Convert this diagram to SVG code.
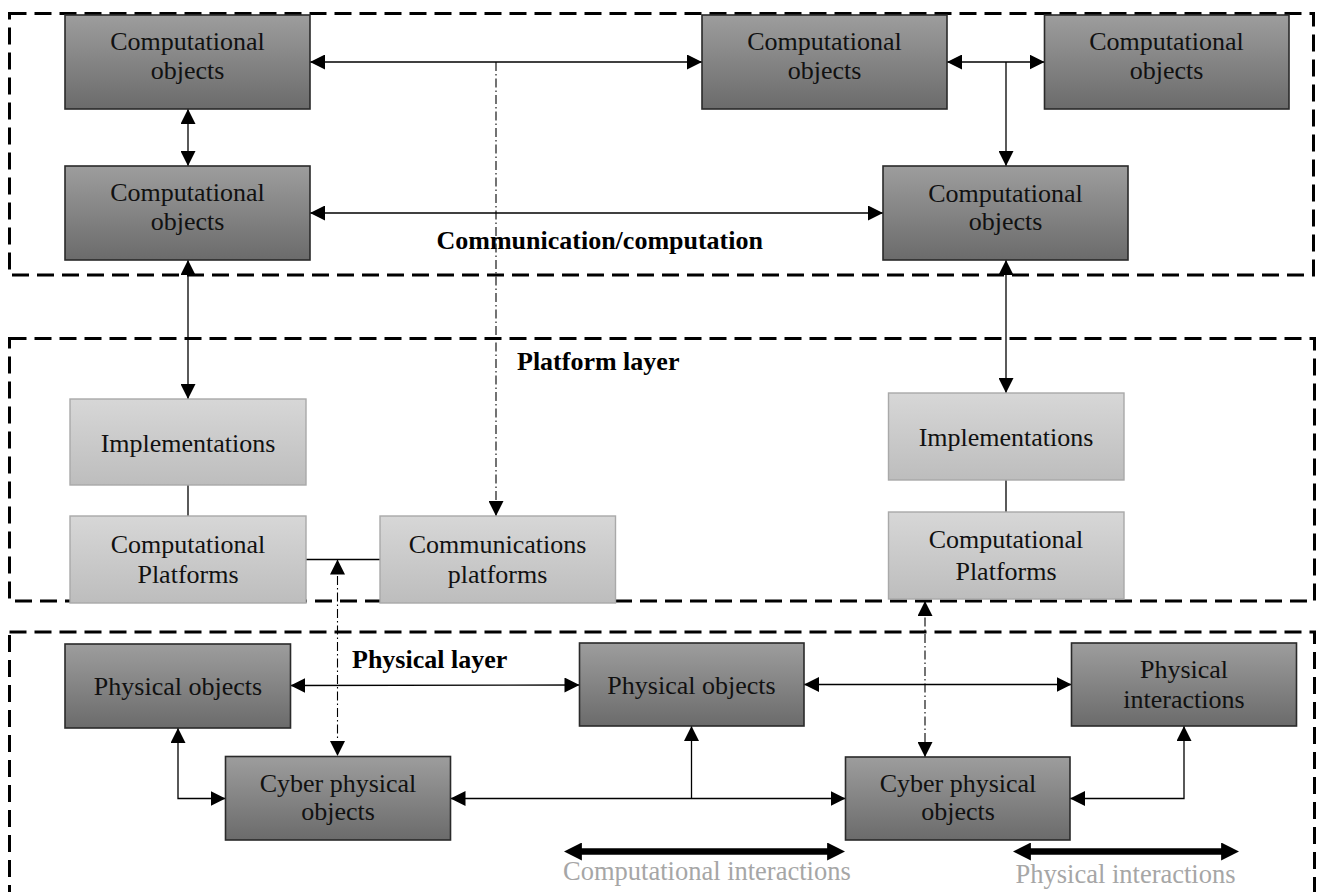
<svg xmlns="http://www.w3.org/2000/svg" width="1321" height="892" viewBox="0 0 1321 892">
<style>
.dark{fill:url(#gd);stroke:#2a2a2a;stroke-width:1.6}
.light{fill:url(#gl);stroke:#a9a9a9;stroke-width:1.4}
.layer{fill:none;stroke:#000;stroke-width:3;stroke-dasharray:17 8}
.t{font-family:"Liberation Serif","Times New Roman",serif;font-size:26px;fill:#111;text-anchor:middle}
.b{font-family:"Liberation Serif","Times New Roman",serif;font-size:26px;font-weight:bold;fill:#000}
.g{font-family:"Liberation Serif","Times New Roman",serif;font-size:26.5px;fill:#a6a6a6}
.c{fill:none;stroke:#000;stroke-width:1.3}
.dd{fill:none;stroke:#000;stroke-width:1.1;stroke-dasharray:9 3 1.5 3}
.thick{fill:none;stroke:#000;stroke-width:6.5}
</style>
<defs>
<linearGradient id="gd" x1="0" y1="0" x2="0" y2="1">
<stop offset="0" stop-color="#9d9d9d"/><stop offset="1" stop-color="#6b6b6b"/>
</linearGradient>
<linearGradient id="gl" x1="0" y1="0" x2="0" y2="1">
<stop offset="0" stop-color="#d7d7d7"/><stop offset="1" stop-color="#bdbdbd"/>
</linearGradient>
<marker id="ah" viewBox="0 0 10 10" refX="10" refY="5" markerWidth="15" markerHeight="15" markerUnits="userSpaceOnUse" orient="auto-start-reverse">
<path d="M0,0 L10,5 L0,10 z" fill="#000"/>
</marker>
<marker id="ahT" viewBox="0 0 10 10" refX="0.5" refY="5" markerWidth="18" markerHeight="18" markerUnits="userSpaceOnUse" orient="auto-start-reverse">
<path d="M0,0 L10,5 L0,10 z" fill="#000"/>
</marker>
</defs>

<g id="layers">
<rect id="layer-comm" class="layer" x="9.5" y="13.5" width="1304" height="261.5"/>
<rect id="layer-platform" class="layer" x="9.5" y="338.5" width="1305" height="262.5"/>
<rect id="layer-physical" class="layer" x="9.5" y="632" width="1305" height="280"/>
</g>

<g id="connectors">
<line class="c" x1="310" y1="62" x2="702" y2="62" marker-start="url(#ah)" marker-end="url(#ah)"/>
<line class="c" x1="947" y1="62" x2="1044.5" y2="62" marker-start="url(#ah)" marker-end="url(#ah)"/>
<line class="c" x1="1006" y1="62" x2="1006" y2="166" marker-end="url(#ah)"/>
<line class="c" x1="188" y1="109" x2="188" y2="166" marker-start="url(#ah)" marker-end="url(#ah)"/>
<line class="c" x1="310" y1="213" x2="883" y2="213" marker-start="url(#ah)" marker-end="url(#ah)"/>
<line class="c" x1="188" y1="260" x2="188" y2="399" marker-start="url(#ah)" marker-end="url(#ah)"/>
<line class="c" x1="1006" y1="260" x2="1006" y2="393" marker-start="url(#ah)" marker-end="url(#ah)"/>
<line class="c" x1="188" y1="485" x2="188" y2="516"/>
<line class="c" x1="1006" y1="480" x2="1006" y2="512"/>
<line class="c" x1="306" y1="559.5" x2="380" y2="559.5"/>
<line class="dd" x1="496" y1="62" x2="496" y2="516" marker-end="url(#ah)"/>
<line class="dd" x1="337.5" y1="559.5" x2="337.5" y2="756" marker-start="url(#ah)" marker-end="url(#ah)"/>
<line class="dd" x1="925" y1="601" x2="925" y2="757" marker-start="url(#ah)" marker-end="url(#ah)"/>
<line class="c" x1="290.5" y1="685.5" x2="579.5" y2="685" marker-start="url(#ah)" marker-end="url(#ah)"/>
<line class="c" x1="804" y1="684.5" x2="1071.5" y2="684.5" marker-start="url(#ah)" marker-end="url(#ah)"/>
<path class="c" d="M178,728 V798.5 H225.5" marker-start="url(#ah)" marker-end="url(#ah)"/>
<line class="c" x1="450.5" y1="798.5" x2="845.5" y2="798.5" marker-start="url(#ah)" marker-end="url(#ah)"/>
<line class="c" x1="691.5" y1="798.5" x2="691.5" y2="726" marker-end="url(#ah)"/>
<path class="c" d="M1184,726 V798.5 H1070" marker-start="url(#ah)" marker-end="url(#ah)"/>
<line class="thick" x1="581" y1="851.5" x2="828" y2="851.5" marker-start="url(#ahT)" marker-end="url(#ahT)"/>
<line class="thick" x1="1030" y1="851.5" x2="1222" y2="851.5" marker-start="url(#ahT)" marker-end="url(#ahT)"/>
</g>

<g id="co1"><rect class="dark" x="65" y="15" width="245" height="94"/>
<text class="t" x="187.5" y="50">Computational</text><text class="t" x="187.5" y="79">objects</text></g>
<g id="co2"><rect class="dark" x="65" y="166" width="245" height="94"/>
<text class="t" x="187.5" y="201">Computational</text><text class="t" x="187.5" y="230">objects</text></g>
<g id="co3"><rect class="dark" x="702" y="15" width="245" height="94"/>
<text class="t" x="824.5" y="50">Computational</text><text class="t" x="824.5" y="79">objects</text></g>
<g id="co4"><rect class="dark" x="1044.5" y="15" width="244.5" height="94"/>
<text class="t" x="1166.5" y="50">Computational</text><text class="t" x="1166.5" y="79">objects</text></g>
<g id="co5"><rect class="dark" x="883" y="166" width="245" height="94"/>
<text class="t" x="1005.5" y="201.5">Computational</text><text class="t" x="1005.5" y="230">objects</text></g>

<g id="impl1"><rect class="light" x="70" y="399" width="236" height="86"/>
<text class="t" x="188" y="451.5">Implementations</text></g>
<g id="cp1"><rect class="light" x="70" y="516" width="236" height="87"/>
<text class="t" x="188" y="553">Computational</text><text class="t" x="188" y="583">Platforms</text></g>
<g id="commp"><rect class="light" x="380" y="516" width="235.5" height="87"/>
<text class="t" x="497.5" y="553">Communications</text><text class="t" x="497.5" y="583">platforms</text></g>
<g id="impl2"><rect class="light" x="888.5" y="393" width="235.5" height="87"/>
<text class="t" x="1006" y="445.5">Implementations</text></g>
<g id="cp2"><rect class="light" x="888.5" y="512" width="235.5" height="87"/>
<text class="t" x="1006" y="548">Computational</text><text class="t" x="1006" y="580">Platforms</text></g>

<g id="po1"><rect class="dark" x="65" y="644" width="225.5" height="84"/>
<text class="t" x="178" y="695">Physical objects</text></g>
<g id="po2"><rect class="dark" x="579.5" y="643" width="224.5" height="83"/>
<text class="t" x="691.5" y="693.5">Physical objects</text></g>
<g id="pi"><rect class="dark" x="1071.5" y="643" width="225" height="83"/>
<text class="t" x="1184" y="678">Physical</text><text class="t" x="1184" y="708">interactions</text></g>
<g id="cpo1"><rect class="dark" x="225.5" y="756.5" width="225" height="83.5"/>
<text class="t" x="338" y="791.5">Cyber physical</text><text class="t" x="338" y="820">objects</text></g>
<g id="cpo2"><rect class="dark" x="845.5" y="757" width="224.5" height="83"/>
<text class="t" x="958" y="791.5">Cyber physical</text><text class="t" x="958" y="820">objects</text></g>

<g id="labels">
<text class="b" x="436.5" y="249">Communication/computation</text>
<text class="b" x="517" y="370">Platform layer</text>
<text class="b" x="352" y="668">Physical layer</text>
<text class="g" x="563" y="880">Computational interactions</text>
<text class="g" x="1015.5" y="883">Physical interactions</text>
</g>
</svg>
